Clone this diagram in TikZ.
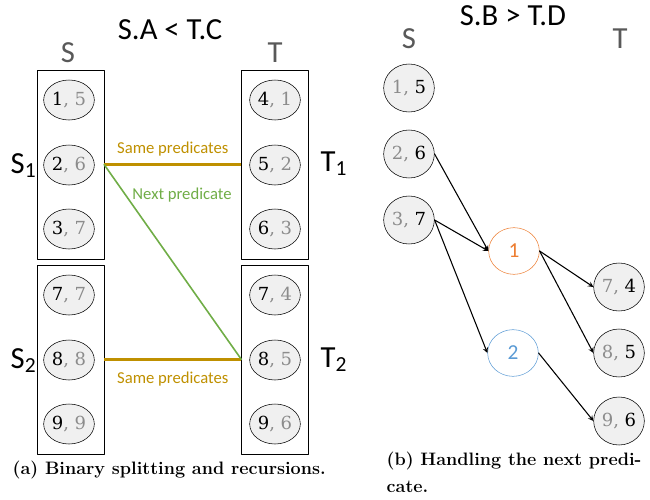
\documentclass[tikz,border=0pt]{standalone}
\usepackage{fontspec}
\usetikzlibrary{shapes.geometric}
\newfontfamily\labelfont{Carlito}
\newfontfamily\numfont{DejaVu Serif}
\definecolor{numgray}{HTML}{8C8C8C}
\definecolor{headgray}{HTML}{595959}
\definecolor{recfill}{HTML}{F0F0F0}
\definecolor{samegold}{HTML}{BF9000}
\definecolor{nextgreen}{HTML}{70AD47}
\definecolor{partorange}{HTML}{ED7D31}
\definecolor{partblue}{HTML}{5B9BD5}
\begin{document}
\begin{tikzpicture}[x=0.75pt,y=-0.75pt,>=stealth,line join=round,line cap=round,
    rec/.style={ellipse,draw,fill=recfill,inner sep=0pt,minimum width=38pt,minimum height=30pt,font=\numfont\fontsize{13.5}{13.5}\selectfont},
    recr/.style={rec,minimum height=36pt},
    part/.style={ellipse,draw,fill=white,inner sep=0pt,minimum width=38pt,minimum height=35pt,font=\labelfont\fontsize{16}{16}\selectfont},
    box/.style={draw,inner sep=0pt,minimum width=50pt,minimum height=141.75pt},
    head/.style={anchor=base,font=\labelfont\fontsize{23}{23}\selectfont},
    grp/.style={anchor=base west,font=\labelfont\fontsize{23}{23}\selectfont},
    edgetext/.style={font=\labelfont\fontsize{12.5}{12.5}\selectfont},
    captext/.style={anchor=base west,font=\bfseries\fontsize{13.5}{16}\selectfont}]
    \useasboundingbox (0,0) rectangle (650,500);
    % (a) binary splitting
    \node[head] (titleA) at (170,39) {S.A < T.C};
    \node[head,text=headgray] (headSA) at (68,62) {S};
    \node[head,text=headgray] (headTA) at (275,62) {T};
    \node[box] (S1) at (70.5,164.5) {};
    \node[box] (S2) at (70.5,359.5) {};
    \node[box] (T1) at (275,164.5) {};
    \node[box] (T2) at (275,359.5) {};
    \foreach \a/\b/\y [count=\i] in {1/5/100,2/6/165,3/7/229,7/7/295,8/8/360,9/9/424}
    \node[rec] (s\i) at (69,\y) {\a{\color{numgray}, \b}};
    \foreach \a/\b/\y [count=\i] in {4/1/100,5/2/165,6/3/229,7/4/295,8/5/360,9/6/424}
    \node[rec] (t\i) at (275,\y) {\a{\color{numgray}, \b}};
    \node[grp] (labS1) at (6,173) {S\textsubscript{1}};
    \node[grp] (labS2) at (6,368) {S\textsubscript{2}};
    \node[grp] (labT1) at (316,171) {T\textsubscript{1}};
    \node[grp] (labT2) at (316,367) {T\textsubscript{2}};
    \draw[samegold,line width=2.2pt,line cap=butt] (S1.east) -- (T1.west)
        node[midway,above=2pt,edgetext] (same1) {Same predicates};
    \draw[samegold,line width=2.2pt,line cap=butt] (S2.east) -- (T2.west)
        node[midway,below=5pt,edgetext] (same2) {Same predicates};
    \draw[nextgreen,line width=1.2pt] (S1.east) -- (T2.west);
    \node[edgetext,text=nextgreen] (next) at (182,195) {Next predicate};
    \node[captext] (capA) at (8,474) {(a) Binary splitting and recursions.};
    % (b) next predicate
    \node[head] (titleB) at (513,25) {S.B > T.D};
    \node[head,text=headgray] (headSB) at (409,48) {S};
    \node[head,text=headgray] (headTB) at (620,48) {T};
    \foreach \a/\b/\y [count=\i] in {1/5/88,2/6/154,3/7/220}
    \node[recr] (r\i) at (409,\y) {{\color{numgray}\a, }\b};
    \foreach \a/\b/\y [count=\i] in {7/4/287,8/5/353,9/6/421}
    \node[recr] (u\i) at (619,\y) {{\color{numgray}\a, }\b};
    \node[part,draw=partorange,text=partorange] (p1) at (514,251) {1};
    \node[part,draw=partblue,text=partblue] (p2) at (513,353) {2};
    \foreach \f/\t in {r2/p1,r3/p1,r3/p2,p1/u1,p1/u2,p2/u3}
    \draw[->,line width=0.8pt] (\f.east) -- (\t.west);
    \node[captext] (capB) at (382,465) {(b) Handling the next predi-};
    \node[captext] (capB2) at (382,492) {cate.};
\end{tikzpicture}
\end{document}
